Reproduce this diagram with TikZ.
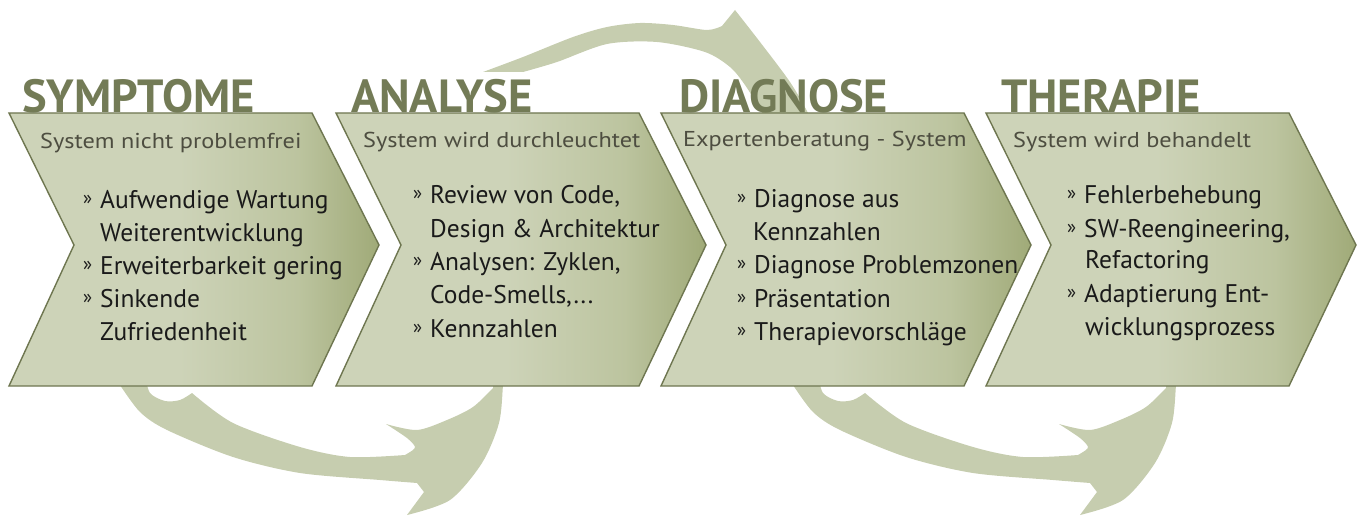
\documentclass[tikz,border=0pt]{standalone}
\usepackage{fontspec}
\setmainfont{PT Sans}
\definecolor{chevL}{HTML}{CDD3B8}
\definecolor{chevM}{HTML}{BCC49F}
\definecolor{chevD}{HTML}{A0AA78}
\definecolor{chevB}{HTML}{6E7650}
\definecolor{swoosh}{HTML}{C6CDAF}
\definecolor{titlec}{HTML}{737B56}
\definecolor{subc}{HTML}{4D4D40}
\definecolor{bodyc}{HTML}{1A1A1A}
\pgfdeclarehorizontalshading{chevshade}{100bp}{color(0bp)=(chevL); color(25bp)=(chevL); color(48bp)=(chevL); color(64bp)=(chevM); color(75bp)=(chevD); color(100bp)=(chevD)}
\newcommand\bul{\makebox[17pt][l]{\fontsize{19}{19}\selectfont\raisebox{3.5pt}{»}}}
\newcommand\subtx[1]{\scalebox{1.13}[1]{#1}}
\tikzset{
  chevron/.style={draw=chevB, line width=1.4pt, shading=chevshade, line join=miter},
  ttl/.style={anchor=base west, inner sep=0pt, text=titlec, font=\fontsize{46.5}{46.5}\selectfont\bfseries},
  subt/.style={anchor=base west, inner sep=0pt, text=subc, font=\fontsize{21.5}{21.5}\selectfont},
  bl/.style={anchor=base west, inner sep=0pt, text=bodyc, font=\fontsize{25.5}{25.5}\selectfont},
  swooshfill/.style={fill=swoosh, draw=none}
}
\begin{document}
\begin{tikzpicture}[x=1pt,y=-1pt]
\useasboundingbox (0,0) rectangle (1363,516);
% background swooshes
\def\lowarrow{%
  (118,370) -- plot[smooth] coordinates {(120,385) (140,412) (167,430) (233,457) (300,473) (380,480) (417,483)}
  -- (424,492) -- (407,515)
  -- plot[smooth] coordinates {(407,515) (450,500) (482,463) (499,423) (503,385) (504,372)}
  -- (493,386)
  -- plot[smooth] coordinates {(493,388) (473,407) (447,420) (417,430) (386,424)}
  -- plot[smooth] coordinates {(386,424) (407,438) (415,447) (410,452)}
  -- plot[smooth] coordinates {(405,455) (350,457) (300,447) (233,423) (192,393)}
  -- plot[smooth] coordinates {(192,393) (180,400) (165,401) (150,393) (145,375)}
  -- cycle}
\fill[swooshfill] \lowarrow;
\begin{scope}[xshift=673pt]
\fill[swooshfill] \lowarrow;
\end{scope}
\fill[swooshfill] (483,72)
  -- plot[smooth] coordinates {(483,72) (523,57) (573,37) (607,27) (640,23) (673,25) (707,30) (722,26)}
  -- (735,10)
  -- plot[smooth] coordinates {(735,10) (760,42) (790,82) (808,113) (812,125)}
  -- (765,125)
  -- plot[smooth] coordinates {(762,112) (745,85) (730,67) (705,52) (657,42) (607,44) (557,62) (523,72)}
  -- cycle;
% titles
\node[ttl] (t1) at (22,113) {SYMPTOME};
\node[ttl] (t2) at (351,113) {ANALYSE};
\node[ttl] (t3) at (679,113) {DIAGNOSE};
\node[ttl] (t4) at (1001,113) {THERAPIE};
% chevrons
\foreach \x in {9,336,661,986}{
  \path[chevron] (\x,113) -- ++(303,0) -- ++(67,132) -- ++(-67,141) -- ++(-303,0) -- ++(65,-141) -- cycle;
}
% subtitles
\node[subt] (s1) at (40,149) {\subtx{System nicht problemfrei}};
\node[subt] (s2) at (363,148) {\subtx{System wird durchleuchtet}};
\node[subt] (s3) at (683,147) {\subtx{Expertenberatung - System}};
\node[subt] (s4) at (1013,148) {\subtx{System wird behandelt}};
% bullets chevron 1
\node[bl] (a1) at (83,208) {\bul Aufwendige Wartung};
\node[bl] (a2) at (100,241) {Weiterentwicklung};
\node[bl] (a3) at (83,274) {\bul Erweiterbarkeit gering};
\node[bl] (a4) at (83,307) {\bul Sinkende};
\node[bl] (a5) at (100,340) {Zufriedenheit};
% chevron 2
\node[bl] (b1) at (413,203) {\bul Review von Code,};
\node[bl] (b2) at (430,237) {Design \& Architektur};
\node[bl] (b3) at (413,270) {\bul Analysen: Zyklen,};
\node[bl] (b4) at (430,303) {Code-Smells,...};
\node[bl] (b5) at (413,337) {\bul Kennzahlen};
% chevron 3
\node[bl] (c1) at (737,207) {\bul Diagnose aus};
\node[bl] (c2) at (753,240) {Kennzahlen};
\node[bl] (c3) at (737,273) {\bul Diagnose Problemzonen};
\node[bl] (c4) at (737,307) {\bul Präsentation};
\node[bl] (c5) at (737,340) {\bul Therapievorschläge};
% chevron 4
\node[bl] (d1) at (1067,203) {\bul Fehlerbehebung};
\node[bl] (d2) at (1067,237) {\bul SW-Reengineering,};
\node[bl] (d3) at (1085,268) {Refactoring};
\node[bl] (d4) at (1067,302) {\bul Adaptierung Ent-};
\node[bl] (d5) at (1085,335) {wicklungsprozess};
\end{tikzpicture}
\end{document}
